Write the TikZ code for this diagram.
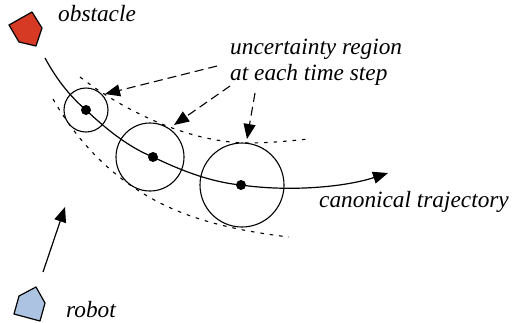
\documentclass[tikz,border=0pt]{standalone}
\usepackage{fontspec}
\setmainfont{Liberation Serif}
\usetikzlibrary{arrows.meta}
\definecolor{obst}{RGB}{214,57,36}
\definecolor{rob}{RGB}{172,195,226}
\tikzset{
  x=1pt,y=-1pt,
  lbl/.style={font=\fontsize{23.3}{23.3}\selectfont\itshape,inner sep=0pt,anchor=base west},
  tip/.style={-{Triangle[length=15pt,width=12pt]}},
  ring/.style={draw,circle,line width=1.1pt,inner sep=0pt,minimum size=#1},
  dot/.style={fill,circle,inner sep=0pt,minimum size=10pt},
  guide/.style={line width=1.1pt,dash pattern=on 3.5pt off 6pt},
  call/.style={tip,line width=1.1pt,dash pattern=on 9pt off 5pt},
  poly/.style={draw,line width=1.2pt,line join=round}
}
\begin{document}
\begin{tikzpicture}
\useasboundingbox (0,0) rectangle (516,322);
\fill[white] (0,0) rectangle (516,322);
% poses and free ends
\coordinate (start) at (45,58);
\coordinate (end) at (388,173);
\coordinate (s1) at (217,66);
\coordinate (e1) at (105,94);
\coordinate (s2) at (230,86);
\coordinate (e2) at (174,125);
\coordinate (s3) at (255,93);
\coordinate (e3) at (247,139);
\coordinate (rs) at (43,272);
\coordinate (re) at (65,207);
% obstacle and robot
\draw[poly,fill=obst] (9,25) -- (32,12) -- (42,28) -- (36,46) -- (19,42) -- cycle;
\draw[poly,fill=rob] (14,314) -- (19,296) -- (36,287) -- (45,303) -- (40,321) -- cycle;
% uncertainty bounds
\draw[guide] (80,77) .. controls (120,108) and (185,142) .. (247,143) .. controls (268,143) and (290,141) .. (308,139);
\draw[guide] (53,99) .. controls (85,155) and (130,192) .. (180,212) .. controls (215,226) and (255,233) .. (289,237);
% circles and centres
\node[ring=44pt] (c1) at (86,110) {};
\node[ring=68pt] (c2) at (150,157) {};
\node[ring=84pt] (c3) at (242,185) {};
\node[dot] (d1) at (86,110) {};
\node[dot] (d2) at (153,157) {};
\node[dot] (d3) at (241,185) {};
% trajectory
\draw[line width=1.2pt,tip] (start) .. controls (58,82) and (72,98) .. (d1.center) .. controls (105,128) and (128,147) .. (d2.center) .. controls (180,170) and (210,182) .. (d3.center) .. controls (290,192) and (345,187) .. (end);
% callouts
\draw[call] (s1) -- (e1);
\draw[call] (s2) -- (e2);
\draw[call] (s3) -- (e3);
\draw[tip,line width=1.2pt] (rs) -- (re);
% labels
\node[lbl] (t1) at (58,21) {obstacle};
\node[lbl] (t2) at (230,54) {uncertainty region};
\node[lbl] (t3) at (230,80) {at each time step};
\node[lbl] (t4) at (319,207) {canonical trajectory};
\node[lbl] (t5) at (66,317) {robot};
\end{tikzpicture}
\end{document}
